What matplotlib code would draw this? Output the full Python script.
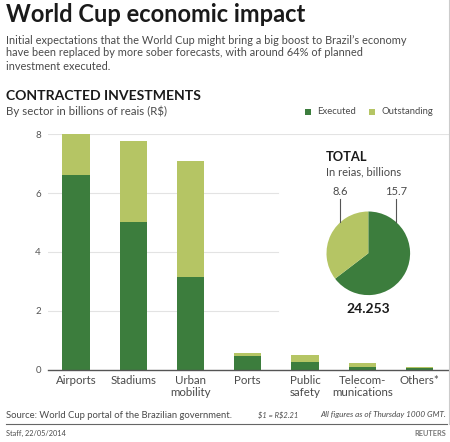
import matplotlib
matplotlib.use("Agg")
import matplotlib.pyplot as plt
from matplotlib.patches import Rectangle
from matplotlib.lines import Line2D

# ---- data ----
sectors = ["Airports", "Stadiums", "Urban\nmobility", "Ports", "Public\nsafety",
           "Telecom-\nmunications", "Others*"]
executed = [6.6, 5.02, 3.16, 0.46, 0.27, 0.09, 0.05]
outstanding = [1.4, 2.76, 3.92, 0.09, 0.22, 0.12, 0.02]
yticks = [0, 2, 4, 6, 8]
pie_values = [15.7, 8.6]          # executed, outstanding
pie_labels = ["15.7", "8.6"]
total_label = "24.253"

DARK = "#3c7d3d"
LIGHT = "#b5c564"
TXT = "#4a4a4a"
FONT = "Lato"

plt.rcParams["font.family"] = [FONT, "DejaVu Sans"]

W, H = 450, 442
fig = plt.figure(figsize=(W / 100, H / 100), dpi=100)
fig.patch.set_facecolor("white")


def fx(x):
    return x / W


def fy(y):
    return 1 - y / H


def ftext(x, y, s, **kw):
    kw.setdefault("va", "center")
    kw.setdefault("ha", "left")
    return fig.text(fx(x), fy(y), s, parse_math=False, **kw)


# ---- header ----
ftext(6, 14, "World Cup economic impact", fontsize=17, fontweight="bold", color="#1a1a1a")
ftext(6, 40, "Initial expectations that the World Cup might bring a big boost to Brazil\u2019s economy",
      fontsize=7.9, color=TXT)
ftext(6, 53, "have been replaced by more sober forecasts, with around 64% of planned",
      fontsize=7.9, color=TXT)
ftext(6, 66, "investment executed.", fontsize=7.9, color=TXT)

ftext(6, 96, "CONTRACTED INVESTMENTS", fontsize=10.1, fontweight="bold", color="#1a1a1a")
ftext(6, 111, "By sector in billions of reais (R$)", fontsize=8.3, color=TXT)

# legend
fig.patches.append(Rectangle((fx(305), fy(115)), 6 / W, 6 / H, transform=fig.transFigure,
                             facecolor=DARK, edgecolor="none"))
ftext(317, 112, "Executed", fontsize=6.8, color=TXT)
fig.patches.append(Rectangle((fx(369), fy(115)), 6 / W, 6 / H, transform=fig.transFigure,
                             facecolor=LIGHT, edgecolor="none"))
ftext(381, 112, "Outstanding", fontsize=6.8, color=TXT)

# ---- bar axes ----
left_px, right_px, bottom_px, top_px = 48, 449, 369.5, 134.3
ax = fig.add_axes([fx(left_px), fy(bottom_px), (right_px - left_px) / W, (bottom_px - top_px) / H])
step = 57.25
ax.set_xlim((left_px - 76) / step, (right_px - 76) / step)
ax.set_ylim(0, 8)
x = list(range(len(sectors)))
ax.bar(x, executed, width=0.48, color=DARK, clip_on=False, zorder=3)
ax.bar(x, outstanding, bottom=executed, width=0.48, color=LIGHT, clip_on=False, zorder=3)

for v in yticks[1:-1]:
    ax.plot([ax.get_xlim()[0], (278 - 76) / step], [v, v], color="#e3e3e3", lw=0.8, zorder=1)
ax.axhline(yticks[-1], color="#e3e3e3", lw=0.8, zorder=1)

for s in ["top", "right", "left"]:
    ax.spines[s].set_visible(False)
ax.spines["bottom"].set_color("#555555")
ax.spines["bottom"].set_linewidth(1.0)
ax.spines["bottom"].set_zorder(4)
ax.set_yticks(yticks)
ax.set_yticklabels([str(v) for v in yticks], fontsize=7, color="#555555")
ax.set_xticks(x)
ax.set_xticklabels(sectors, fontsize=8.3, color=TXT, linespacing=1.15)
ax.tick_params(axis="both", length=0)
ax.tick_params(axis="y", pad=5)
ax.tick_params(axis="x", pad=4)
ax.set_facecolor("none")

# ---- pie ----
cx, cy, r = 368.3, 253.3, 41.8
pax = fig.add_axes([fx(cx - r), fy(cy + r), 2 * r / W, 2 * r / H])
pax.pie(pie_values, colors=[DARK, LIGHT], startangle=90, counterclock=False, radius=1,
        wedgeprops=dict(linewidth=0))
pax.set_xlim(-1, 1)
pax.set_ylim(-1, 1)
pax.set_aspect("auto")
pax.axis("off")

for lab, lx in [(pie_labels[1], 340.3), (pie_labels[0], 396)]:
    dx = (lx - cx) / r
    edge = (1 - dx ** 2) ** 0.5
    pax.add_line(Line2D([dx, dx], [edge, (cy - 199) / r], color="#555555", lw=0.8, clip_on=False))
    pax.text(dx, (cy - 191.5) / r, lab, ha="center", va="center", fontsize=8, color=TXT,
             clip_on=False)

ftext(326, 157, "TOTAL", fontsize=9.3, fontweight="bold", color="#1a1a1a")
ftext(326, 172, "In reias, billions", fontsize=8, color=TXT)
ftext(cx, 309, total_label, ha="center", fontsize=10, fontweight="bold", color="#1a1a1a")

# ---- footer ----
ftext(6, 415, "Source: World Cup portal of the Brazilian government.", fontsize=6.8, color=TXT)
ftext(258, 415, "$1 = R$2.21", fontsize=5.4, style="italic", color=TXT)
ftext(446, 415, "All figures as of Thursday 1000 GMT.", ha="right", fontsize=5.9,
      style="italic", color=TXT)
fig.lines.append(Line2D([fx(6), fx(447)], [fy(423.5), fy(423.5)], transform=fig.transFigure,
                        color="#666666", lw=0.8))
fig.lines.append(Line2D([fx(448.5), fx(448.5)], [fy(0), fy(423.5)], transform=fig.transFigure,
                        color="#cccccc", lw=0.8))
ftext(6, 433, "Staff, 22/05/2014", fontsize=5.3, color=TXT)
ftext(446, 433, "REUTERS", ha="right", fontsize=5.3, fontweight="bold", color="#777777")

fig.savefig("out.png", dpi=100, facecolor="white")
